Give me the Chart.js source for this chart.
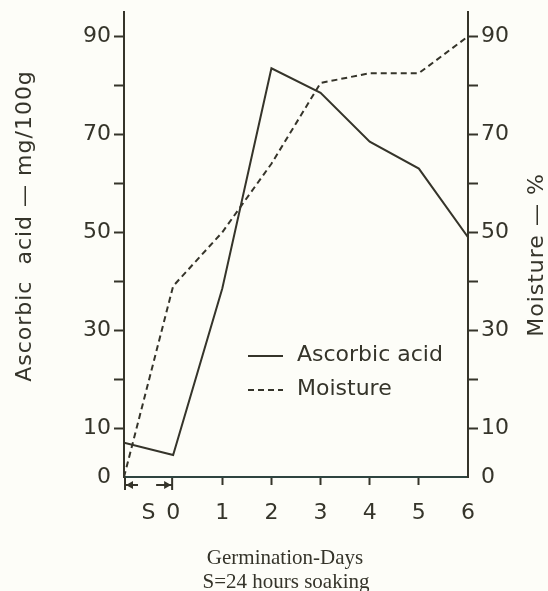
<!DOCTYPE html>
<html><head><meta charset="utf-8">
<script src="https://cdn.jsdelivr.net/npm/chart.js@4"></script>
<style>html,body{margin:0;padding:0;background:#fdfdf8;}#wrap{width:548px;height:591px;position:relative;}</style>
</head><body><div id="wrap"><canvas id="c" width="548" height="591"></canvas></div>
<script>
// ---- data ----
const days = [-1, 0, 1, 2, 3, 4, 5, 6];           // -1 = start of soaking period S
const xTickValues = [-0.5, 0, 1, 2, 3, 4, 5, 6];
const xTickLabels = ['S', '0', '1', '2', '3', '4', '5', '6'];
const ascorbicAcid = [7, 4.5, 38.5, 83.5, 78.5, 68.5, 63, 49];   // mg/100g
const moisture = [0, 39, 50, 64, 80.5, 82.5, 82.5, 90];          // %
const yTickValues = [0, 10, 20, 30, 40, 50, 60, 70, 80, 90];
const yTickLabels = ['0', '10', '', '30', '', '50', '', '70', '', '90'];
const seriesNames = ['Ascorbic acid', 'Moisture'];
const leftTitle = 'Ascorbic  acid \u2014 mg/100g';
const rightTitle = 'Moisture \u2014 %';
const xTitle = ['Germination-Days', 'S=24 hours soaking'];

const INK = '#35342a';
const FONT = '"DejaVu Sans", sans-serif';

const yLabel = v => { const i = yTickValues.indexOf(v); return i >= 0 ? yTickLabels[i] : ''; };
const xLabel = v => { const i = xTickValues.indexOf(v); return i >= 0 ? xTickLabels[i] : ''; };

const yScale = (pos, width) => ({
  type: 'linear', position: pos, min: 0, max: 95,
  afterBuildTicks: s => { s.ticks = yTickValues.map(v => ({ value: v })); },
  afterFit: s => { s.width = width; s.paddingTop = 0; s.paddingBottom = 0; },
  ticks: { callback: v => yLabel(v), color: INK, font: { family: FONT, size: 22 }, padding: 3, autoSkip: false },
  grid: { drawOnChartArea: false, drawTicks: true, tickLength: 10, tickWidth: 2,
          tickColor: c => (c.tick && c.tick.value === 0) ? 'rgba(0,0,0,0)' : INK },
  border: { display: true, color: INK, width: 2 }
});

const extras = {
  id: 'extras',
  afterDraw(chart) {
    const ctx = chart.ctx;
    const xs = chart.scales.x;
    ctx.save();
    ctx.fillStyle = INK; ctx.strokeStyle = INK;
    // soaking arrows |<-  ->|
    const a = xs.getPixelForValue(-1), b = xs.getPixelForValue(0);
    const yy = 485;
    ctx.lineWidth = 2;
    ctx.beginPath();
    ctx.moveTo(a + 1, 478); ctx.lineTo(a + 1, 490);
    ctx.moveTo(a + 1, yy); ctx.lineTo(a + 14, yy);
    ctx.moveTo(b - 1, 478); ctx.lineTo(b - 1, 490);
    ctx.moveTo(b - 1, yy); ctx.lineTo(b - 17, yy);
    ctx.stroke();
    ctx.beginPath();
    ctx.moveTo(a + 2, yy); ctx.lineTo(a + 9, yy - 4); ctx.lineTo(a + 9, yy + 4); ctx.closePath();
    ctx.moveTo(b - 2, yy); ctx.lineTo(b - 9, yy - 4); ctx.lineTo(b - 9, yy + 4); ctx.closePath();
    ctx.fill();

    // legend
    ctx.font = '22px ' + FONT;
    ctx.textBaseline = 'middle'; ctx.textAlign = 'left';
    chart.data.datasets.forEach((ds, i) => {
      const y = 355 + i * 34;
      ctx.lineWidth = 2;
      ctx.setLineDash(ds.borderDash || []);
      ctx.beginPath(); ctx.moveTo(248, y + 1); ctx.lineTo(283, y + 1); ctx.stroke();
      ctx.setLineDash([]);
      ctx.fillText(ds.label, 297, y);
    });

    // axis titles
    ctx.font = '22px ' + FONT;
    ctx.textAlign = 'center'; ctx.textBaseline = 'middle';
    ctx.letterSpacing = '1px';
    ctx.save(); ctx.translate(25, 226); ctx.rotate(-Math.PI / 2); ctx.fillText(leftTitle, 0, 0); ctx.restore();
    ctx.save(); ctx.translate(537, 255); ctx.rotate(-Math.PI / 2); ctx.fillText(rightTitle, 0, 0); ctx.restore();
    ctx.letterSpacing = '0px';
    ctx.font = '21px "Liberation Serif", serif';
    ctx.fillText(xTitle[0], 285, 558);
    ctx.fillText(xTitle[1], 286, 582);
    ctx.restore();
  }
};

new Chart(document.getElementById('c'), {
  type: 'line',
  data: {
    datasets: [
      { label: seriesNames[0], data: days.map((d, i) => ({ x: d, y: ascorbicAcid[i] })), yAxisID: 'y',
        borderColor: INK, borderWidth: 2, pointRadius: 0, tension: 0, fill: false },
      { label: seriesNames[1], data: days.map((d, i) => ({ x: d, y: moisture[i] })), yAxisID: 'y2',
        borderColor: INK, borderWidth: 2, borderDash: [6, 4], pointRadius: 0, tension: 0, fill: false }
    ]
  },
  options: {
    responsive: false, animation: false, devicePixelRatio: 1,
    layout: { padding: { top: 12, left: 0, right: 0, bottom: 0 } },
    plugins: { legend: { display: false }, tooltip: { enabled: false } },
    scales: {
      x: {
        type: 'linear', min: -1, max: 6,
        afterBuildTicks: s => { s.ticks = xTickValues.map(v => ({ value: v })); },
        afterFit: s => { s.height = 114; s.paddingLeft = 0; s.paddingRight = 0; },
        ticks: { callback: v => xLabel(v), color: INK, font: { family: FONT, size: 22 }, padding: 15, autoSkip: false, maxRotation: 0 },
        grid: { drawOnChartArea: false, drawTicks: true, tickLength: 8, tickWidth: 2,
                tickColor: c => (c.tick && c.tick.value >= 1 && c.tick.value <= 5) ? INK : 'rgba(0,0,0,0)' },
        border: { display: true, color: '#2e4440', width: 2 }
      },
      y: yScale('left', 124),
      y2: yScale('right', 80)
    }
  },
  plugins: [extras]
});
</script></body></html>
